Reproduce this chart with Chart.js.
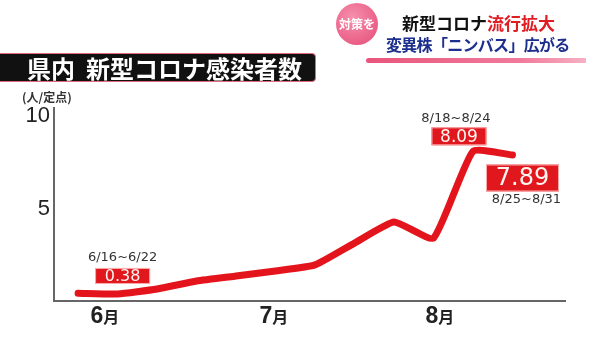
<!DOCTYPE html>
<html>
<head>
<meta charset="utf-8">
<script src="https://cdn.jsdelivr.net/npm/chart.js@4"></script>
<style>
html, body { margin: 0; padding: 0; background: #fff; }
#wrap { position: relative; width: 600px; height: 338px; overflow: hidden; font-family: "Noto Sans CJK JP", sans-serif; }
#wrap canvas { position: absolute; left: 0; top: 0; }
#title { position: absolute; left: -4px; top: 53px; width: 320px; height: 29px; background: #111; border: 1px solid #e0687a;
  border-radius: 0 4px 4px 0; box-sizing: border-box; color: #fff; font-weight: bold; font-size: 24px; line-height: 27px;
  padding-left: 30px; white-space: nowrap; }
#unit { position: absolute; left: 22px; top: 88px; font-size: 12px; color: #333; font-weight: bold; }
#badge { position: absolute; left: 336px; top: 3px; width: 42px; height: 42px; border-radius: 50%;
  background: radial-gradient(circle at 40% 35%, #f690ad, #e54a76); color: #fff; font-size: 12px; font-weight: bold;
  line-height: 42px; text-align: center; }
#head1 { position: absolute; left: 402px; top: 13px; font-size: 17px; font-weight: bold; color: #111; white-space: nowrap; line-height: 20px; }
#head1 span { color: #e01c24; }
#head2 { position: absolute; left: 386px; top: 34px; font-size: 16px; font-weight: bold; color: #1d2f8e; white-space: nowrap; line-height: 20px; letter-spacing: -0.7px; }
#swoosh { position: absolute; left: 366px; top: 58px; width: 220px; height: 5px; border-radius: 6px 2px 2px 6px;
  background: linear-gradient(90deg, #e8557d, #f07a9a 70%, #f6b0c4); }
</style>
</head>
<body>
<div id="wrap">
  <canvas id="chart" width="600" height="338"></canvas>
  <div id="title">県内&nbsp;&nbsp;新型コロナ感染者数</div>
  <div id="unit">(人/定点)</div>
  <div id="badge">対策を</div>
  <div id="head1">新型コロナ<span>流行拡大</span></div>
  <div id="head2">変異株「ニンバス」広がる</div>
  <div id="swoosh"></div>
</div>
<script>
// 週ごとの定点当たり感染者数
const weeks = ['6/9~6/15', '6/16~6/22', '6/23~6/29', '6/30~7/6', '7/7~7/13', '7/14~7/20',
               '7/21~7/27', '7/28~8/3', '8/4~8/10', '8/11~8/17', '8/18~8/24', '8/25~8/31'];
const perSite = [0.42, 0.38, 0.65, 1.08, 1.35, 1.62, 1.95, 3.13, 4.27, 3.40, 8.09, 7.89];

// 月ラベル(週インデックス上の位置)
const monthLabels = ['6月', '7月', '8月'];
const monthAt = [0.68, 4.96, 9.16];

const yTicks = [5, 10];

// 数値を表示する週
const callouts = [1, 10, 11];

const RED = '#e3141c';

// 吹き出し位置の微調整
const calloutStyle = {
    1:  { dx: 5,   dy: -18, w: 55, h: 16, size: 16, tdx: 5,   tdy: -36 },
    10: { dx: -14, dy: -15, w: 55, h: 18, size: 17, tdx: -17, tdy: -33 },
    11: { dx: 10,  dy: 23,  w: 73, h: 27, size: 24, tdx: 14,  tdy: 45 }
};

const labelPlugin = {
    id: 'labels',
    afterDraw(chart) {
        const ctx = chart.ctx;
        const xs = chart.scales.x;
        const ys = chart.scales.y;
        ctx.save();

        // 月ラベル
        monthLabels.forEach((m, i) => {
            const x = xs.getPixelForValue(monthAt[i]);
            const num = m.slice(0, -1);
            ctx.font = 'bold 23px "Liberation Sans", sans-serif';
            const w1 = ctx.measureText(num).width;
            ctx.font = 'bold 16px "Noto Sans CJK JP", sans-serif';
            const w2 = ctx.measureText('月').width;
            let left = x - (w1 + w2) / 2;
            ctx.fillStyle = '#222';
            ctx.textAlign = 'left';
            ctx.textBaseline = 'alphabetic';
            ctx.font = 'bold 23px "Liberation Sans", sans-serif';
            ctx.fillText(num, left, 323);
            ctx.font = 'bold 16px "Noto Sans CJK JP", sans-serif';
            ctx.fillText('月', left + w1, 323);
        });

        // 数値の吹き出し
        callouts.forEach(i => {
            const s = calloutStyle[i];
            const px = xs.getPixelForValue(i);
            const py = ys.getPixelForValue(perSite[i]);
            const bx = px + s.dx - s.w / 2;
            const by = py + s.dy - s.h / 2;
            ctx.fillStyle = '#e0171d';
            ctx.fillRect(bx, by, s.w, s.h);
            ctx.strokeStyle = 'rgba(255,190,190,0.9)';
            ctx.lineWidth = 1;
            ctx.strokeRect(bx + 0.5, by + 0.5, s.w - 1, s.h - 1);
            ctx.fillStyle = '#fff4f0';
            ctx.textAlign = 'center';
            ctx.textBaseline = 'middle';
            ctx.font = s.size + 'px "DejaVu Sans", sans-serif';
            ctx.fillText(perSite[i].toFixed(2), px + s.dx, py + s.dy + 1);

            ctx.fillStyle = '#333';
            ctx.font = '13px "DejaVu Sans", sans-serif';
            ctx.fillText(weeks[i], px + s.tdx, py + s.tdy);
        });
        ctx.restore();
    }
};

new Chart(document.getElementById('chart'), {
    type: 'line',
    data: {
        datasets: [{
            data: perSite.map((v, i) => ({ x: i, y: v })),
            borderColor: RED,
            borderWidth: 7,
            tension: 0.15,
            pointRadius: 0,
            borderCapStyle: 'round',
            borderJoinStyle: 'miter',
            fill: false
        }]
    },
    options: {
        responsive: false,
        animation: false,
        events: [],
        layout: { padding: { top: 108, right: 35, left: 0, bottom: 0 } },
        plugins: { legend: { display: false }, tooltip: { enabled: false } },
        scales: {
            x: {
                type: 'linear',
                min: -0.61,
                max: 12.33,
                grid: { display: false },
                border: { display: true, color: '#666', width: 2 },
                ticks: { display: false },
                afterFit(scale) { scale.height = 37; }
            },
            y: {
                min: 0,
                max: 10.43,
                grid: { display: false },
                border: { display: true, color: '#666', width: 2 },
                afterBuildTicks(scale) { scale.ticks = yTicks.map(v => ({ value: v })); },
                ticks: {
                    color: '#222',
                    padding: -4,
                    font: { family: '"Liberation Sans", sans-serif', size: 22 }
                },
                afterFit(scale) { scale.width = 54; }
            }
        }
    },
    plugins: [labelPlugin]
});
</script>
</body>
</html>
